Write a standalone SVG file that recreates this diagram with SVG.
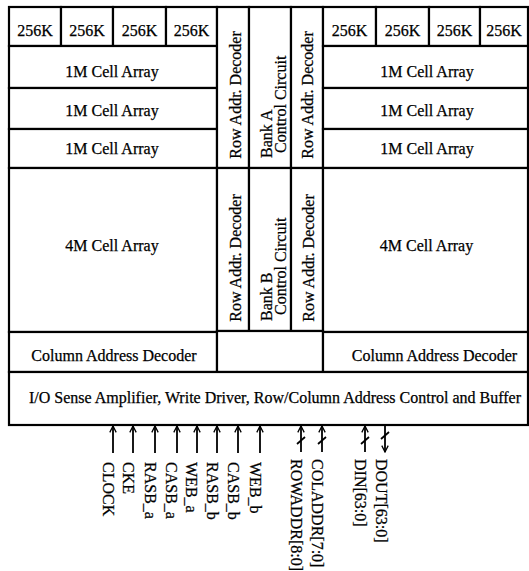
<svg xmlns="http://www.w3.org/2000/svg" width="529" height="571" viewBox="0 0 529 571">
<style>
.b{fill:#fff;stroke:#000;stroke-width:2.2}
text{font-family:"Liberation Serif","Times New Roman",serif;font-size:16px;fill:#000;stroke:#000;stroke-width:0.25}
.c{text-anchor:middle}
.a{stroke:#000;stroke-width:1.8;fill:none}
</style>
<defs>
<marker id="ah" viewBox="0 0 10 10" refX="9" refY="5" markerWidth="8" markerHeight="8" markerUnits="userSpaceOnUse" orient="auto">
<path d="M1,1 L9,5 L1,9" fill="none" stroke="#000" stroke-width="1.6"/>
</marker>
</defs>
<rect width="529" height="571" fill="#fff"/>
<g id="k256-left">
<rect class="b" x="9" y="7" width="52" height="39"/>
<rect class="b" x="61" y="7" width="52" height="39"/>
<rect class="b" x="113" y="7" width="53" height="39"/>
<rect class="b" x="166" y="7" width="51" height="39"/>
<text class="c" x="35" y="36">256K</text>
<text class="c" x="87" y="36">256K</text>
<text class="c" x="139.5" y="36">256K</text>
<text class="c" x="191.5" y="36">256K</text>
</g>
<g id="m1-left-1"><rect class="b" x="9" y="46" width="208" height="42"/><text class="c" x="112" y="77">1M Cell Array</text></g>
<g id="m1-left-2"><rect class="b" x="9" y="88" width="208" height="41"/><text class="c" x="112" y="116">1M Cell Array</text></g>
<g id="m1-left-3"><rect class="b" x="9" y="129" width="208" height="39"/><text class="c" x="112" y="154">1M Cell Array</text></g>
<g id="rowdec-a-left"><rect class="b" x="217" y="7" width="32" height="161"/><text class="c" transform="translate(241,95) rotate(-90)">Row Addr. Decoder</text></g>
<g id="bank-a"><rect class="b" x="249" y="7" width="42" height="161"/>
<text transform="translate(272,158) rotate(-90)">Bank A</text>
<text transform="translate(286,153) rotate(-90)">Control Circuit</text></g>
<g id="rowdec-a-right"><rect class="b" x="291" y="7" width="32" height="161"/><text class="c" transform="translate(313,95) rotate(-90)">Row Addr. Decoder</text></g>
<g id="k256-right">
<rect class="b" x="323" y="7" width="53" height="39"/>
<rect class="b" x="376" y="7" width="53" height="39"/>
<rect class="b" x="429" y="7" width="51" height="39"/>
<rect class="b" x="480" y="7" width="48" height="39"/>
<text class="c" x="349.5" y="36">256K</text>
<text class="c" x="402.5" y="36">256K</text>
<text class="c" x="454.5" y="36">256K</text>
<text class="c" x="504" y="36">256K</text>
</g>
<g id="m1-right-1"><rect class="b" x="323" y="46" width="205" height="42"/><text class="c" x="427" y="77">1M Cell Array</text></g>
<g id="m1-right-2"><rect class="b" x="323" y="88" width="205" height="41"/><text class="c" x="427" y="116">1M Cell Array</text></g>
<g id="m1-right-3"><rect class="b" x="323" y="129" width="205" height="39"/><text class="c" x="427" y="154">1M Cell Array</text></g>
<g id="m4-left"><rect class="b" x="9" y="168" width="208" height="164"/><text class="c" x="112" y="251">4M Cell Array</text></g>
<g id="rowdec-b-left"><rect class="b" x="217" y="168" width="32" height="163"/><text class="c" transform="translate(241,258) rotate(-90)">Row Addr. Decoder</text></g>
<g id="bank-b"><rect class="b" x="249" y="168" width="42" height="163"/>
<text transform="translate(272,321) rotate(-90)">Bank B</text>
<text transform="translate(286,315) rotate(-90)">Control Circuit</text></g>
<g id="rowdec-b-right"><rect class="b" x="291" y="168" width="32" height="163"/><text class="c" transform="translate(314,258) rotate(-90)">Row Addr. Decoder</text></g>
<g id="m4-right"><rect class="b" x="323" y="168" width="205" height="164"/><text class="c" x="426.5" y="251">4M Cell Array</text></g>
<g id="coldec-left"><rect class="b" x="9" y="332" width="208" height="40"/><text class="c" x="114" y="361">Column Address Decoder</text></g>
<g id="mid-gap"><rect class="b" x="217" y="331" width="106" height="41"/></g>
<g id="coldec-right"><rect class="b" x="323" y="332" width="205" height="40"/><text class="c" x="434.5" y="361">Column Address Decoder</text></g>
<g id="io"><rect class="b" x="9" y="372" width="519" height="53"/><text class="c" x="275" y="403">I/O Sense Amplifier, Write Driver, Row/Column Address Control and Buffer</text></g>
<g id="connectors">
<line class="a" x1="113" y1="453" x2="113" y2="426" marker-end="url(#ah)"/>
<line class="a" x1="133" y1="453" x2="133" y2="426" marker-end="url(#ah)"/>
<line class="a" x1="155" y1="453" x2="155" y2="426" marker-end="url(#ah)"/>
<line class="a" x1="177" y1="453" x2="177" y2="426" marker-end="url(#ah)"/>
<line class="a" x1="197" y1="453" x2="197" y2="426" marker-end="url(#ah)"/>
<line class="a" x1="217" y1="453" x2="217" y2="426" marker-end="url(#ah)"/>
<line class="a" x1="238" y1="453" x2="238" y2="426" marker-end="url(#ah)"/>
<line class="a" x1="260" y1="453" x2="260" y2="426" marker-end="url(#ah)"/>
<line class="a" x1="301" y1="452" x2="301" y2="426" marker-end="url(#ah)"/>
<line class="a" x1="297" y1="444" x2="305" y2="437"/>
<line class="a" x1="322" y1="452" x2="322" y2="426" marker-end="url(#ah)"/>
<line class="a" x1="318" y1="444" x2="326" y2="437"/>
<line class="a" x1="365" y1="452" x2="365" y2="426" marker-end="url(#ah)"/>
<line class="a" x1="361" y1="444" x2="369" y2="437"/>
<line class="a" x1="385" y1="426" x2="385" y2="452" marker-end="url(#ah)"/>
<line class="a" x1="381" y1="439" x2="389" y2="432"/>
</g>
<g id="signals">
<text transform="translate(102.5,462) rotate(90)">CLOCK</text>
<text transform="translate(122.5,462) rotate(90)">CKE</text>
<text transform="translate(145,462) rotate(90)">RASB_a</text>
<text transform="translate(166,462) rotate(90)">CASB_a</text>
<text transform="translate(186,462) rotate(90)">WEB_a</text>
<text transform="translate(207,462) rotate(90)">RASB_b</text>
<text transform="translate(228,462) rotate(90)">CASB_b</text>
<text transform="translate(249.5,462) rotate(90)">WEB_b</text>
<text transform="translate(291,459) rotate(90)">ROWADDR[8:0]</text>
<text transform="translate(311.5,459) rotate(90)">COLADDR[7:0]</text>
<text transform="translate(355,459) rotate(90)">DIN[63:0]</text>
<text transform="translate(376,459) rotate(90)">DOUT[63:0]</text>
</g>
</svg>
